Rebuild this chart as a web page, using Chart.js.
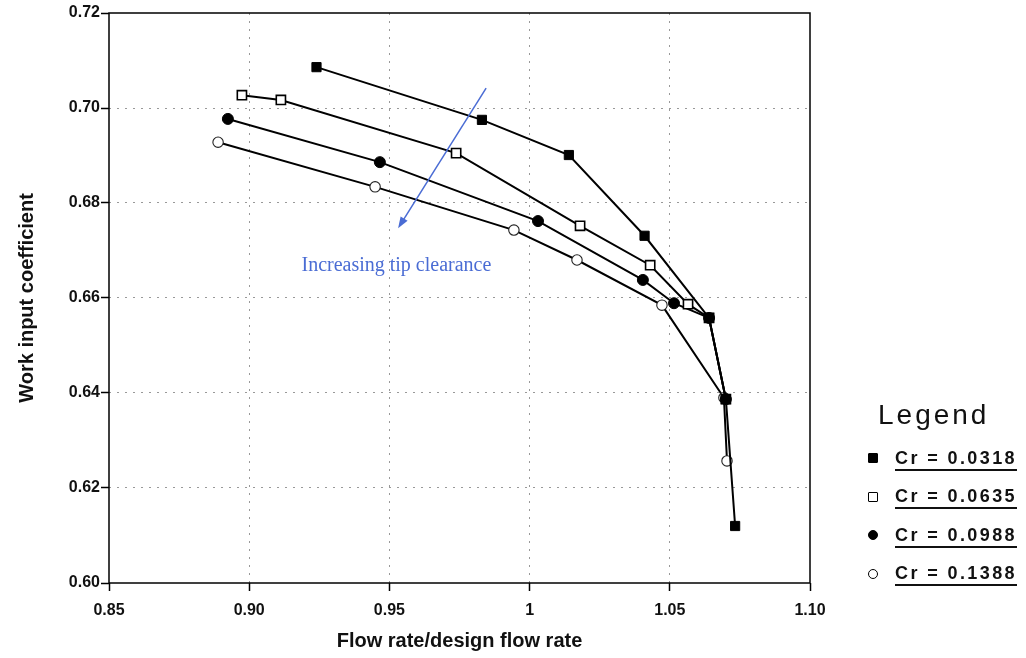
<!DOCTYPE html>
<html>
<head>
<meta charset="utf-8">
<script src="https://cdn.jsdelivr.net/npm/chart.js@4.4.1/dist/chart.umd.min.js"></script>
<style>
  html, body { margin: 0; padding: 0; background: #fff; }
  #wrap { position: relative; width: 1026px; height: 658px; }
  #legend { position: absolute; left: 866px; top: 397px; font-family: "Liberation Sans", Arial, sans-serif; color: #111; }
  #legend .title { font-size: 28px; letter-spacing: 3px; margin-left: 12px; height: 42px; line-height: 36px; }
  #legend .row { display: flex; align-items: center; height: 38.5px; }
  #legend .mk { width: 14px; height: 14px; margin-right: 15px; position: relative; }
  #legend .txt { font-size: 18px; font-weight: bold; letter-spacing: 2.4px; text-decoration: underline; text-decoration-thickness: 2px; text-underline-offset: 5px; }
</style>
</head>
<body>
<div id="wrap">
  <canvas id="c" width="1026" height="658"></canvas>
  <div id="legend"></div>
</div>
<script>
// Tip clearance ratios for each tested impeller
const clearanceLabels = ['Cr = 0.0318', 'Cr = 0.0635', 'Cr = 0.0988', 'Cr = 0.1388'];

// Flow rate / design flow rate and work input coefficient, one pair of arrays per clearance
const flowCr0318 = [0.924, 0.983, 1.014, 1.041, 1.064, 1.070, 1.0733];
const workCr0318 = [0.7086, 0.6975, 0.6901, 0.6731, 0.6558, 0.6387, 0.612];

const flowCr0635 = [0.8974, 0.9113, 0.9738, 1.018, 1.043, 1.0565, 1.064, 1.070];
const workCr0635 = [0.7027, 0.7017, 0.6905, 0.6752, 0.6669, 0.6587, 0.6558, 0.6387];

const flowCr0988 = [0.8924, 0.9466, 1.003, 1.0404, 1.0515, 1.064, 1.070];
const workCr0988 = [0.6977, 0.6886, 0.6762, 0.6638, 0.6589, 0.6558, 0.6387];

const flowCr1388 = [0.8889, 0.9449, 0.9944, 1.0169, 1.0472, 1.0693, 1.0704];
const workCr1388 = [0.6928, 0.6834, 0.6743, 0.668, 0.6585, 0.639, 0.6257];

// Axis tick labels
const xTickLabels = { '0.85': '0.85', '0.9': '0.90', '0.95': '0.95', '1': '1', '1.05': '1.05', '1.1': '1.10' };
const yTickLabels = ['0.60', '0.62', '0.64', '0.66', '0.68', '0.70', '0.72'];

// Annotation arrow (in data units) and its caption
const arrowFrom = { x: 0.9845, y: 0.7042 };
const arrowTo = { x: 0.9531, y: 0.6747 };
const captionAt = { x: 0.9525, y: 0.6667 };
const captionText = 'Increasing tip clearance';

const pairs = (xs, ys) => xs.map((x, i) => ({ x, y: ys[i] }));

const styles = [
  { pointStyle: 'rect', radius: 6.5, fill: '#000', border: '#000', bw: 1 },
  { pointStyle: 'rect', radius: 6.5, fill: '#fff', border: '#000', bw: 1.6 },
  { pointStyle: 'circle', radius: 5.5, fill: '#000', border: '#000', bw: 1 },
  { pointStyle: 'circle', radius: 5.2, fill: '#fff', border: '#222', bw: 1.1 }
];
const series = [
  pairs(flowCr0318, workCr0318),
  pairs(flowCr0635, workCr0635),
  pairs(flowCr0988, workCr0988),
  pairs(flowCr1388, workCr1388)
];

const datasets = series.map((data, i) => ({
  label: clearanceLabels[i],
  data,
  showLine: true,
  borderColor: '#000',
  borderWidth: 2,
  pointStyle: styles[i].pointStyle,
  pointRadius: styles[i].radius,
  pointBackgroundColor: styles[i].fill,
  pointBorderColor: styles[i].border,
  pointBorderWidth: styles[i].bw,
  tension: 0
}));

// Frame around the plot area
const framePlugin = {
  id: 'frame',
  afterDraw(chart) {
    const { ctx, chartArea: a } = chart;
    ctx.save();
    ctx.strokeStyle = '#000';
    ctx.lineWidth = 1.5;
    ctx.strokeRect(a.left, a.top, a.right - a.left, a.bottom - a.top);
    ctx.restore();
  }
};

// Blue arrow with caption
const arrowPlugin = {
  id: 'clearanceArrow',
  afterDatasetsDraw(chart) {
    const { ctx, scales: { x, y } } = chart;
    const x1 = x.getPixelForValue(arrowFrom.x), y1 = y.getPixelForValue(arrowFrom.y);
    const x2 = x.getPixelForValue(arrowTo.x), y2 = y.getPixelForValue(arrowTo.y);
    const ang = Math.atan2(y2 - y1, x2 - x1);
    const head = 12, spread = 0.35;
    ctx.save();
    ctx.strokeStyle = '#4a6cd4';
    ctx.fillStyle = '#4a6cd4';
    ctx.lineWidth = 1.5;
    ctx.beginPath();
    ctx.moveTo(x1, y1);
    ctx.lineTo(x2 - Math.cos(ang) * head * 0.8, y2 - Math.sin(ang) * head * 0.8);
    ctx.stroke();
    ctx.beginPath();
    ctx.moveTo(x2, y2);
    ctx.lineTo(x2 - head * Math.cos(ang - spread), y2 - head * Math.sin(ang - spread));
    ctx.lineTo(x2 - head * Math.cos(ang + spread), y2 - head * Math.sin(ang + spread));
    ctx.closePath();
    ctx.fill();
    ctx.font = '20px "Liberation Serif", "Times New Roman", serif';
    ctx.textAlign = 'center';
    ctx.textBaseline = 'middle';
    ctx.fillText(captionText, x.getPixelForValue(captionAt.x), y.getPixelForValue(captionAt.y));
    ctx.restore();
  }
};

const tickFont = { family: '"Liberation Sans", Arial, sans-serif', size: 16, weight: 'bold' };
const titleFont = { family: '"Liberation Sans", Arial, sans-serif', size: 20, weight: 'bold' };
const gridColor = (min, max) => (ctx) => {
  const v = ctx.tick ? ctx.tick.value : null;
  return (v === null || Math.abs(v - min) < 1e-9 || Math.abs(v - max) < 1e-9) ? 'rgba(0,0,0,0)' : '#999';
};

new Chart(document.getElementById('c'), {
  type: 'scatter',
  data: { datasets },
  options: {
    responsive: false,
    animation: false,
    layout: { padding: { left: 0, right: 216, top: 13, bottom: 0 } },
    plugins: { legend: { display: false }, tooltip: { enabled: false } },
    scales: {
      x: {
        type: 'linear',
        min: 0.85,
        max: 1.10,
        afterFit(scale) { scale.height = 75; },
        afterBuildTicks(scale) {
          scale.ticks = Object.keys(xTickLabels).map(v => ({ value: parseFloat(v) }));
        },
        ticks: {
          font: tickFont,
          color: '#111',
          padding: 10,
          maxRotation: 0,
          callback: (v) => xTickLabels[String(Math.round(v * 100) / 100)] ?? ''
        },
        grid: {
          color: gridColor(0.85, 1.10),
          lineWidth: 1,
          tickLength: 8,
          tickColor: '#000',
          tickWidth: 1.5
        },
        border: { display: false, dash: [2, 6] },
        title: { display: true, text: 'Flow rate/design flow rate', font: titleFont, color: '#111', padding: { top: 0, bottom: 5 } }
      },
      y: {
        type: 'linear',
        min: 0.60,
        max: 0.72,
        afterFit(scale) { scale.width = 109; },
        afterBuildTicks(scale) {
          scale.ticks = yTickLabels.map(v => ({ value: parseFloat(v) }));
        },
        ticks: {
          font: tickFont,
          color: '#111',
          padding: 1,
          callback: (v) => yTickLabels.find(t => Math.abs(parseFloat(t) - v) < 1e-9) ?? ''
        },
        grid: {
          color: gridColor(0.60, 0.72),
          lineWidth: 1,
          tickLength: 8,
          tickColor: '#000',
          tickWidth: 1.5
        },
        border: { display: false, dash: [2, 6] },
        title: { display: true, text: 'Work input coefficient', font: titleFont, color: '#111', padding: { top: 15, bottom: 0 } }
      }
    }
  },
  plugins: [framePlugin, arrowPlugin]
});

// Legend built from the same labels and marker styles
const legend = document.getElementById('legend');
const title = document.createElement('div');
title.className = 'title';
title.textContent = 'Legend';
legend.appendChild(title);
clearanceLabels.forEach((lab, i) => {
  const row = document.createElement('div');
  row.className = 'row';
  const mk = document.createElement('div');
  mk.className = 'mk';
  const s = styles[i];
  const inner = document.createElement('div');
  inner.style.cssText = 'position:absolute;left:2px;top:2px;width:10px;height:10px;box-sizing:border-box;' +
    `background:${s.fill};border:${s.fill === '#fff' ? 1.5 : 1}px solid #000;` +
    (s.pointStyle === 'circle' ? 'border-radius:50%;' : 'border-radius:1px;');
  mk.appendChild(inner);
  const txt = document.createElement('span');
  txt.className = 'txt';
  txt.textContent = lab;
  row.appendChild(mk);
  row.appendChild(txt);
  legend.appendChild(row);
});
</script>
</body>
</html>
